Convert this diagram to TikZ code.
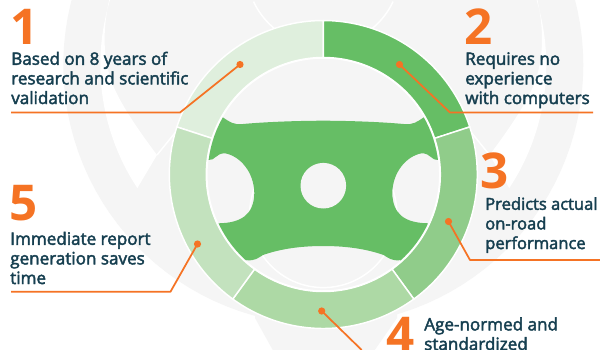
\documentclass[tikz,border=0pt]{standalone}
\usepackage{fontspec}
\setmainfont{Open Sans}
\newfontfamily\semifont{Open Sans}[FakeBold=2.4]
\definecolor{bggrey}{HTML}{F5F5F5}
\definecolor{orangeA}{HTML}{F57324}
\definecolor{inkA}{HTML}{163F50}
\definecolor{hubgreen}{HTML}{66BE65}
\definecolor{segA}{HTML}{DFEFDD}
\definecolor{segB}{HTML}{66BE65}
\definecolor{segC}{HTML}{90CC8A}
\definecolor{segD}{HTML}{ADD9A5}
\definecolor{segE}{HTML}{C3E2BE}
\tikzset{
  numlabel/.style={anchor=base west,inner sep=0pt,text=orangeA,font=\bfseries\fontsize{37pt}{37pt}\selectfont},
  textlabel/.style={anchor=base west,inner sep=0pt,text=inkA,align=left,font=\semifont\fontsize{12.8pt}{14.7pt}\selectfont},
  leader/.style={draw=orangeA,line width=1.3pt,line join=round},
  leaderdot/.style={circle,fill=orangeA,inner sep=0pt,minimum size=5.4pt},
  whiteline/.style={draw=white,line width=1.1pt},
  segline/.style={draw=white,line width=1.1pt},
}
\newcommand{\ringseg}[3]{%
  \filldraw[segline,fill=#1] plot[domain=#2:#3,samples=50] ({323.3+154*cos(\x)},{174.5-154*sin(\x)})
   -- plot[domain=#3:#2,samples=50] ({323.3+117*cos(\x)},{174.5-117*sin(\x)}) -- cycle;}
\begin{document}
\begin{tikzpicture}[x=.75pt,y=-.75pt]
\useasboundingbox (0,0) rectangle (600,350);
\begin{scope}
\clip (0,0) rectangle (600,350);
\fill[white] (0,0) rectangle (600,350);
% background watermark
\fill[bggrey] plot[domain=0:360,samples=120] ({323.3+260*cos(\x)},{65+260*sin(\x)});
\fill[bggrey] (255,318) -- (275,354) -- (372,354) -- (397,318) -- (397,300) -- (255,300) -- cycle;
% white wedges (left and mirrored right)
\foreach \s in {1,-1}{
  \begin{scope}[shift={(323.3,0)},xscale=\s]
  \fill[white] plot[domain=18:-33.5,samples=30] ({-223*cos(\x)},{65-223*sin(\x)})
     -- (-166.3,155) .. controls (-185,130) and (-206,100) .. (-213,78)
     .. controls (-220,55) and (-221,30) .. (-213.5,-3) -- cycle;
  \draw[whiteline] (-166.3,155) -- (-146,130);
  \end{scope}
}
\draw[whiteline] plot[domain=205:335,samples=60] ({323.3+77*cos(\x)},{-31-77*sin(\x)});
% ring
\ringseg{segA}{90}{162}
\ringseg{segB}{18}{90}
\ringseg{segC}{-54}{18}
\ringseg{segD}{-126}{-54}
\ringseg{segE}{162}{234}
% inner disk
\filldraw[fill=bggrey,draw=white,line width=1.1pt] plot[domain=0:360,samples=120] ({323.3+116.5*cos(\x)},{174.5+116.5*sin(\x)});
\draw[whiteline] plot[domain=-20:200,samples=60] ({323.3+73.6*cos(\x)},{214+73.6*sin(\x)});
% hub
\begin{scope}
\clip plot[domain=0:360,samples=120] ({323.3+115.6*cos(\x)},{174.5+115.6*sin(\x)});
\fill[hubgreen]
  (323.3,120.7) .. controls (295,120.8) and (265,122) .. (243,124)
  .. controls (233,125) and (230,122) .. (222.7,117.3)
  -- (190,110) -- (190,160) -- (208.3,160)
  .. controls (215,161) and (216,153) .. (225,153.3)
  .. controls (240,156) and (254,172) .. (254.3,193)
  .. controls (254,214) and (242,223) .. (218.3,223.3)
  -- (190,224) -- (200,270) -- (246.7,260.2)
  .. controls (255,261) and (258,258) .. (263,255)
  .. controls (280,249) and (300,246) .. (323.3,246)
  .. controls (346.6,246) and (366.6,249) .. (383.6,255)
  .. controls (388.6,258) and (391.6,261) .. (399.9,260.2)
  -- (446.6,270) -- (456.6,224) -- (428.3,223.3)
  .. controls (404.6,223) and (392.6,214) .. (392.3,193)
  .. controls (392.6,172) and (406.6,156) .. (421.6,153.3)
  .. controls (430.6,153) and (431.6,161) .. (438.3,160)
  -- (456.6,160) -- (456.6,110) -- (423.9,117.3)
  .. controls (416.6,122) and (413.6,125) .. (403.6,124)
  .. controls (381.6,122) and (351.6,120.8) .. (323.3,120.7) -- cycle;
\end{scope}
\node[circle,fill=bggrey,inner sep=0pt,minimum size=34.2pt] (hubhole) at (323.3,185.7) {};
\end{scope}
% named points of connectors
\node[leaderdot] (dotA) at (240,64.5) {};
\node[leaderdot] (dotB) at (399.5,64.5) {};
\node[leaderdot] (dotC) at (448.5,221.5) {};
\node[leaderdot] (dotD) at (321.7,311) {};
\node[leaderdot] (dotE) at (197.5,244) {};
\coordinate (bendA) at (180,112.5);
\coordinate (endA) at (11,112.5);
\coordinate (bendB) at (450,112.5);
\coordinate (endB) at (593,112.5);
\coordinate (bendC) at (470,260);
\coordinate (endC) at (600,260);
\coordinate (endD) at (361.7,350);
\coordinate (bendE) at (170.5,291.7);
\coordinate (endE) at (11,291.7);
\draw[leader] (dotA.center) -- (bendA) -- (endA);
\draw[leader] (dotB.center) -- (bendB) -- (endB);
\draw[leader] (dotC.center) -- (bendC) -- (endC);
\draw[leader] (dotD.center) -- (endD);
\draw[leader] (dotE.center) -- (bendE) -- (endE);
% labels
\node[numlabel] (numA) at (10,44) {1};
\node[numlabel] (numB) at (464,44) {2};
\node[numlabel] (numC) at (480,188) {3};
\node[numlabel] (numD) at (386,352) {4};
\node[numlabel] (numE) at (9,220) {5};
\node[textlabel] (txtA) at (11,104) {Based on 8 years of\\research and scientific\\validation};
\node[textlabel] (txtB) at (465,104) {Requires no\\experience\\with computers};
\node[textlabel,font=\semifont\fontsize{12.4pt}{14.7pt}\selectfont] (txtC) at (485,249) {Predicts actual\\on-road\\performance};
\node[textlabel] (txtD) at (424,350) {Age-normed and\\standardized};
\node[textlabel] (txtE) at (10,284) {Immediate report\\generation saves\\time};
\end{tikzpicture}
\end{document}
